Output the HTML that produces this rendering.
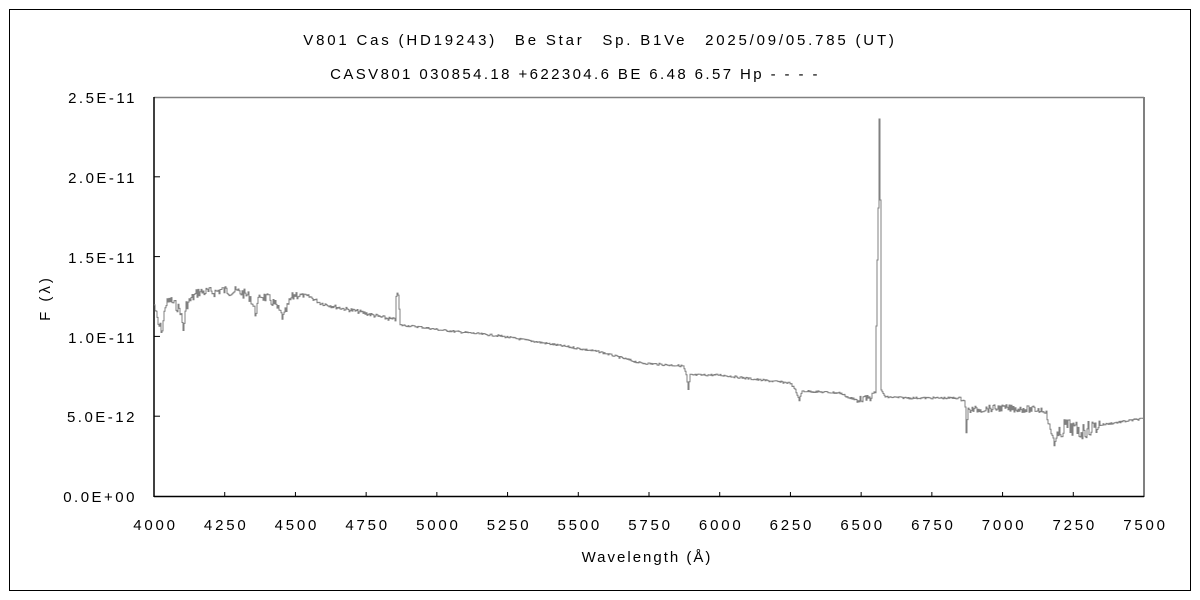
<!DOCTYPE html>
<html><head><meta charset="utf-8"><style>
html,body{margin:0;padding:0;background:#fff;}
svg{display:block;font-family:"Liberation Sans","Noto Sans CJK JP",sans-serif;}
</style></head><body>
<svg id="s" width="1200" height="600" viewBox="0 0 1200 600" xmlns="http://www.w3.org/2000/svg">
<rect x="9.5" y="9.5" width="1181" height="581" fill="#fff" stroke="#000" stroke-width="1"/>
<text x="600" y="45" font-size="15" text-anchor="middle" fill="#000" letter-spacing="2.8">V801 Cas (HD19243)　Be Star　Sp. B1Ve　2025/09/05.785 (UT)</text>
<text x="575" y="79" font-size="15" text-anchor="middle" fill="#000" letter-spacing="2.4">CASV801 030854.18 +622304.6 BE 6.48 6.57 Hp - - - -</text>
<line x1="154" y1="97.5" x2="1144" y2="97.5" stroke="#808080" stroke-width="1.5"/>
<line x1="1144" y1="97" x2="1144" y2="497" stroke="#808080" stroke-width="2"/>
<line x1="154" y1="97" x2="154" y2="497" stroke="#000" stroke-width="1.5"/>
<line x1="154" y1="496.5" x2="1144" y2="496.5" stroke="#000" stroke-width="1.5"/>
<g id="ticks" stroke="#000" stroke-width="1"></g>
<g font-size="15" fill="#000" text-anchor="end" letter-spacing="2.5">
<text x="137" y="103">2.5E-11</text>
<text x="137" y="183">2.0E-11</text>
<text x="137" y="263">1.5E-11</text>
<text x="137" y="343">1.0E-11</text>
<text x="137" y="422">5.0E-12</text>
<text x="137" y="502">0.0E+00</text>
</g>
<g id="xl" font-size="15" fill="#000" text-anchor="middle" letter-spacing="2.8"></g>
<text x="647" y="562" font-size="15" text-anchor="middle" letter-spacing="2">Wavelength (Å)</text>
<text transform="translate(50,298) rotate(-90)" font-size="15" text-anchor="middle" letter-spacing="3">F (λ)</text>
<polyline id="sp" fill="none" stroke="#808080" stroke-width="1" points=""/>
</svg>
<script>
var t=document.getElementById('ticks'),xl=document.getElementById('xl'),ns='http://www.w3.org/2000/svg';
for(var i=0;i<=14;i++){var x=154+i*990/14;
 if(i>0&&i<14){var l=document.createElementNS(ns,'line');l.setAttribute('x1',x);l.setAttribute('x2',x);l.setAttribute('y1',492);l.setAttribute('y2',497);t.appendChild(l);}
 var tx=document.createElementNS(ns,'text');tx.setAttribute('x',x+1.5);tx.setAttribute('y',530);tx.textContent=4000+i*250;xl.appendChild(tx);}
for(var j=1;j<5;j++){var y=496-j*79.8;var l=document.createElementNS(ns,'line');l.setAttribute('x1',154);l.setAttribute('x2',160);l.setAttribute('y1',y);l.setAttribute('y2',y);t.appendChild(l);}
var a=[[154,305],[158,325],[162,330],[165,305],[170,300],[180,310],[183,330],[186,305],[192,298],[198,292],[215,292],[220,290],[240,292],[250,297],[255,313],[260,295],[270,300],[275,305],[283,318],[290,300],[295,294],[310,297],[320,303],[340,308],[360,312],[380,317],[395,320],[396,295],[398,295],[400,325],[420,327],[440,330],[500,336],[600,352],[640,363],[683,366],[686,375],[688,390],[690,375],[720,375],[760,380],[790,383],[795,390],[799,400],[802,391],[840,393],[853,400],[870,398],[875,392],[877,260],[878,208],[879,119],[880,200],[881,390],[885,397],[910,398],[963,398],[965,405],[966,433],[968,410],[1000,408],[1045,410],[1050,430],[1055,442],[1065,425],[1080,432],[1100,425],[1140,419],[1144,419]];
function f(x){for(var k=0;k<a.length-1;k++){if(x>=a[k][0]&&x<=a[k+1][0]){var r=(x-a[k][0])/(a[k+1][0]-a[k][0]||1);return a[k][1]+r*(a[k+1][1]-a[k][1]);}}return 419;}
var seed=7;function rnd(){seed=(seed*9301+49297)%233280;return seed/233280-0.5;}
var pts=[],py=null;
for(var x=154;x<=1144;x+=1){var y=f(x);var amp=2;
 if(x<300)amp=10;else if(x<400)amp=4;else if(x>1050&&x<1100)amp=16;else if(x>960&&x<1050)amp=7;else if(x>850&&x<876)amp=6;
 if(x<876||x>883)y+=rnd()*amp;
 if(py!==null)pts.push(x+','+py.toFixed(1));pts.push(x+','+y.toFixed(1));py=y;}
document.getElementById('sp').setAttribute('points',pts.join(' '));
</script>
</body></html>
